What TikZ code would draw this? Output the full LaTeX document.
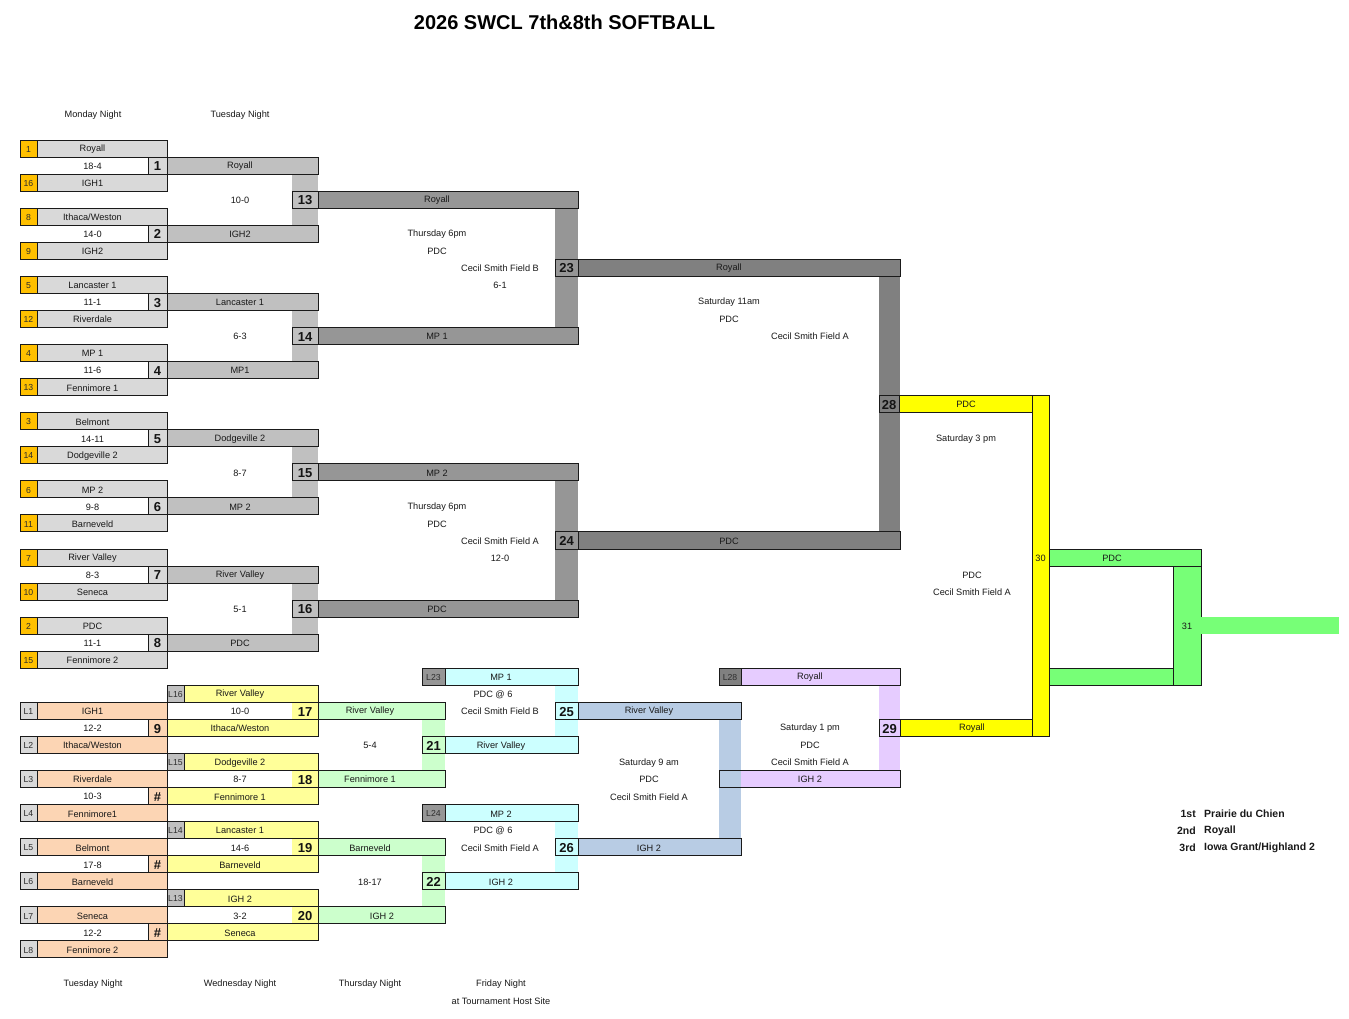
\documentclass[tikz,border=0pt]{standalone}
\usepackage{fontspec}
\setmainfont{Liberation Sans}
\newcounter{tn}
\definecolor{seedc}{HTML}{FFC000}
\definecolor{namec}{HTML}{D9D9D9}
\definecolor{lvA}{HTML}{C0C0C0}
\definecolor{lvB}{HTML}{969696}
\definecolor{lvC}{HTML}{808080}
\definecolor{yel}{HTML}{FFFF00}
\definecolor{lyel}{HTML}{FFFF99}
\definecolor{lgrn}{HTML}{CCFFCC}
\definecolor{lcyn}{HTML}{CCFFFF}
\definecolor{lblu}{HTML}{B8CCE4}
\definecolor{lpur}{HTML}{E6CCFF}
\definecolor{grn}{HTML}{77FF77}
\definecolor{peach}{HTML}{FCD5B4}
\definecolor{bc}{HTML}{1A1A1A}
\newcommand{\cellbox}[5]{\path[draw=bc,line width=0.9pt,fill=#5] (#1,#2) rectangle (#3,#4);}
\newcommand{\tx}[4][]{\stepcounter{tn}\node[lbl,#1] (n\arabic{tn}) at (#2,#3) {#4};}
\newcommand{\seedrow}[3]{\cellbox{20}{#1}{37}{#1+1}{seedc}\cellbox{37}{#1}{167}{#1+1}{namec}\tx[sm]{28.5}{#1+0.5}{#2}\tx{92.5}{#1+0.5}{#3}}
\newcommand{\firstgame}[8]{\seedrow{#1}{#2}{#3}\seedrow{#1+2}{#4}{#5}%
 \tx{92.5}{#1+1.5}{#6}%
 \cellbox{148}{#1+1}{167}{#1+2}{namec}\tx[num]{157.5}{#1+1.5}{#7}%
 \cellbox{167}{#1+1}{318}{#1+2}{lvA}\tx{240}{#1+1.5}{#8}}
\newcommand{\secgame}[4]{\cellbox{292}{#1}{318}{#1+1}{lvA}\tx[num]{305}{#1+0.5}{#2}%
 \cellbox{318}{#1}{578}{#1+1}{lvB}\tx{437}{#1+0.5}{#3}\tx{240}{#1+0.5}{#4}}
\newcommand{\lrow}[3]{\cellbox{20}{#1}{37}{#1+1}{namec}\tx[sm]{28.5}{#1+0.5}{#2}%
 \cellbox{37}{#1}{167}{#1+1}{peach}\tx{92.5}{#1+0.5}{#3}}
\newcommand{\cgroup}[8]{%
 \cellbox{167}{#1}{318}{#1+1}{lyel}\cellbox{167}{#1}{184}{#1+1}{lvA}\tx[sm]{175.5}{#1+0.5}{#2}\tx{240}{#1+0.5}{#3}%
 \fill[white] (167,#1+1) rectangle (318,#1+2);\fill[lyel] (292,#1+1) rectangle (318,#1+2);%
 \draw[draw=bc,line width=0.9pt] (167,#1+1) rectangle (318,#1+2);%
 \tx{240}{#1+1.5}{#4}\tx[num]{305}{#1+1.5}{#5}%
 \cellbox{148}{#1+2}{167}{#1+3}{peach}\tx[num]{157.5}{#1+2.5}{#6}%
 \cellbox{167}{#1+2}{318}{#1+3}{lyel}\tx{240}{#1+2.5}{#7}\tx{92.5}{#1+2.5}{#8}}
\begin{document}
\begin{tikzpicture}[x=1pt,y=-17.04pt,
 lbl/.style={inner sep=0pt,yshift=-0.7pt,font=\fontsize{9.2}{10}\selectfont,text=black!90},
 sm/.style={font=\fontsize{8.7}{10}\selectfont,text=black!82},
 num/.style={font=\fontsize{13}{14}\selectfont\bfseries,text=black!92},
 leg/.style={font=\fontsize{10.5}{12}\selectfont\bfseries,text=black!90}]
\useasboundingbox[fill=white] (0,-8.216) rectangle (1349,51.526);
% title and headers
\tx[font=\fontsize{20}{22}\selectfont\bfseries,text=black]{564.5}{-6.925}{2026 SWCL 7th\&8th SOFTBALL}
\tx{93}{-1.5}{Monday Night}
\tx{240}{-1.5}{Tuesday Night}
% vertical connector fills (top)
\fill[lvA] (292,2) rectangle (318,5);
\fill[lvA] (292,10) rectangle (318,13);
\fill[lvA] (292,18) rectangle (318,21);
\fill[lvA] (292,26) rectangle (318,29);
\fill[lvB] (555,4) rectangle (578,11);
\fill[lvB] (555,20) rectangle (578,27);
\fill[lvC] (879,8) rectangle (900,23);
% vertical connector fills (bottom)
\fill[lgrn] (422,34) rectangle (445,37);
\fill[lgrn] (422,42) rectangle (445,45);
\fill[lcyn] (555,32) rectangle (578,35);
\fill[lcyn] (555,40) rectangle (578,43);
\fill[lblu] (719,34) rectangle (741,41);
\fill[lpur] (879,32) rectangle (900,37);
% first round
\firstgame{0}{1}{Royall}{16}{IGH1}{18-4}{1}{Royall}
\firstgame{4}{8}{Ithaca/Weston}{9}{IGH2}{14-0}{2}{IGH2}
\firstgame{8}{5}{Lancaster 1}{12}{Riverdale}{11-1}{3}{Lancaster 1}
\firstgame{12}{4}{MP 1}{13}{Fennimore 1}{11-6}{4}{MP1}
\firstgame{16}{3}{Belmont}{14}{Dodgeville 2}{14-11}{5}{Dodgeville 2}
\firstgame{20}{6}{MP 2}{11}{Barneveld}{9-8}{6}{MP 2}
\firstgame{24}{7}{River Valley}{10}{Seneca}{8-3}{7}{River Valley}
\firstgame{28}{2}{PDC}{15}{Fennimore 2}{11-1}{8}{PDC}
% second round
\secgame{3}{13}{Royall}{10-0}
\secgame{11}{14}{MP 1}{6-3}
\secgame{19}{15}{MP 2}{8-7}
\secgame{27}{16}{PDC}{5-1}
% third round
\cellbox{555}{7}{578}{8}{lvB}\tx[num]{566.5}{7.5}{23}
\cellbox{578}{7}{900}{8}{lvC}\tx{729}{7.5}{Royall}
\cellbox{555}{23}{578}{24}{lvB}\tx[num]{566.5}{23.5}{24}
\cellbox{578}{23}{900}{24}{lvC}\tx{729}{23.5}{PDC}
\tx{437}{5.5}{Thursday 6pm}
\tx{437}{6.5}{PDC}
\tx{500}{7.5}{Cecil Smith Field B}
\tx{500}{8.5}{6-1}
\tx{437}{21.5}{Thursday 6pm}
\tx{437}{22.5}{PDC}
\tx{500}{23.5}{Cecil Smith Field A}
\tx{500}{24.5}{12-0}
\tx{729}{9.5}{Saturday 11am}
\tx{729}{10.5}{PDC}
\tx{810}{11.5}{Cecil Smith Field A}
% semifinal 28
\cellbox{879}{15}{899}{16}{lvC}\tx[num]{889}{15.5}{28}
\cellbox{899}{15}{1032}{16}{yel}\tx{966}{15.5}{PDC}
\tx{966}{17.5}{Saturday 3 pm}
\tx{972}{25.5}{PDC}
\tx{972}{26.5}{Cecil Smith Field A}
% championship
\cellbox{1032}{15}{1049}{35}{yel}\tx{1040.5}{24.5}{30}
\cellbox{1049}{24}{1201}{25}{grn}\tx{1112}{24.5}{PDC}
\cellbox{1173}{25}{1201}{32}{grn}\tx{1187}{28.5}{31}
\cellbox{1049}{31}{1173}{32}{grn}
\fill[grn] (1201,28) rectangle (1339,29);
% consolation first round
\lrow{33}{L1}{IGH1}
\lrow{35}{L2}{Ithaca/Weston}
\lrow{37}{L3}{Riverdale}
\lrow{39}{L4}{Fennimore1}
\lrow{41}{L5}{Belmont}
\lrow{43}{L6}{Barneveld}
\lrow{45}{L7}{Seneca}
\lrow{47}{L8}{Fennimore 2}
\cgroup{32}{L16}{River Valley}{10-0}{17}{9}{Ithaca/Weston}{12-2}
\cgroup{36}{L15}{Dodgeville 2}{8-7}{18}{\#}{Fennimore 1}{10-3}
\cgroup{40}{L14}{Lancaster 1}{14-6}{19}{\#}{Barneveld}{17-8}
\cgroup{44}{L13}{IGH 2}{3-2}{20}{\#}{Seneca}{12-2}
% green
\cellbox{318}{33}{445}{34}{lgrn}\tx{370}{33.5}{River Valley}
\cellbox{318}{37}{445}{38}{lgrn}\tx{370}{37.5}{Fennimore 1}
\cellbox{318}{41}{445}{42}{lgrn}\tx{370}{41.5}{Barneveld}
\cellbox{318}{45}{445}{46}{lgrn}\tx{382}{45.5}{IGH 2}
\tx{370}{35.5}{5-4}
\tx{370}{43.5}{18-17}
% cyan
\cellbox{422}{31}{445}{32}{lvB}\tx[sm]{433.5}{31.5}{L23}
\cellbox{445}{31}{578}{32}{lcyn}\tx{501}{31.5}{MP 1}
\cellbox{422}{35}{445}{36}{lgrn}\tx[num]{433.5}{35.5}{21}
\cellbox{445}{35}{578}{36}{lcyn}\tx{501}{35.5}{River Valley}
\cellbox{422}{39}{445}{40}{lvB}\tx[sm]{433.5}{39.5}{L24}
\cellbox{445}{39}{578}{40}{lcyn}\tx{501}{39.5}{MP 2}
\cellbox{422}{43}{445}{44}{lgrn}\tx[num]{433.5}{43.5}{22}
\cellbox{445}{43}{578}{44}{lcyn}\tx{501}{43.5}{IGH 2}
\tx{493}{32.5}{PDC @ 6}
\tx{500}{33.5}{Cecil Smith Field B}
\tx{493}{40.5}{PDC @ 6}
\tx{500}{41.5}{Cecil Smith Field A}
% blue
\cellbox{555}{33}{578}{34}{lcyn}\tx[num]{566.5}{33.5}{25}
\cellbox{578}{33}{741}{34}{lblu}\tx{649}{33.5}{River Valley}
\cellbox{555}{41}{578}{42}{lcyn}\tx[num]{566.5}{41.5}{26}
\cellbox{578}{41}{741}{42}{lblu}\tx{649}{41.5}{IGH 2}
\tx{649}{36.5}{Saturday 9 am}
\tx{649}{37.5}{PDC}
\tx{649}{38.5}{Cecil Smith Field A}
% purple
\cellbox{719}{31}{741}{32}{lvC}\tx[sm]{730}{31.5}{L28}
\cellbox{741}{31}{900}{32}{lpur}\tx{810}{31.5}{Royall}
\fill[lpur] (741,37) rectangle (900,38);
\fill[lblu] (719,37) rectangle (741,38);
\draw[draw=bc,line width=0.9pt] (719,37) rectangle (900,38);
\tx{810}{37.5}{IGH 2}
\tx{810}{34.5}{Saturday 1 pm}
\tx{810}{35.5}{PDC}
\tx{810}{36.5}{Cecil Smith Field A}
\cellbox{879}{34}{900}{35}{lpur}\tx[num]{889.5}{34.5}{29}
\cellbox{900}{34}{1032}{35}{yel}\tx{972}{34.5}{Royall}
% legend
\tx[leg,anchor=east]{1196}{39.5}{1st}\tx[leg,anchor=west]{1204}{39.5}{Prairie du Chien}
\tx[leg,anchor=east]{1196}{40.5}{2nd}\tx[leg,anchor=west]{1204}{40.5}{Royall}
\tx[leg,anchor=east]{1196}{41.5}{3rd}\tx[leg,anchor=west]{1204}{41.5}{Iowa Grant/Highland 2}
% bottom labels
\tx{93}{49.5}{Tuesday Night}
\tx{240}{49.5}{Wednesday Night}
\tx{370}{49.5}{Thursday Night}
\tx{501}{49.5}{Friday Night}
\tx{501}{50.5}{at Tournament Host Site}
\end{tikzpicture}
\end{document}
